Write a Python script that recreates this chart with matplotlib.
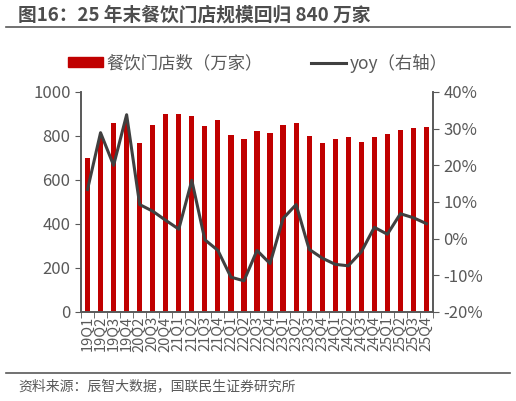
import numpy as np
import matplotlib.pyplot as plt
from matplotlib.lines import Line2D

plt.rcParams['font.family'] = ['Noto Sans CJK SC', 'DejaVu Sans']

quarters = ["19Q1", "19Q2", "19Q3", "19Q4", "20Q2", "20Q3", "20Q4",
            "21Q1", "21Q2", "21Q3", "21Q4", "22Q1", "22Q2", "22Q3", "22Q4",
            "23Q1", "23Q2", "23Q3", "23Q4", "24Q1", "24Q2", "24Q3", "24Q4",
            "25Q1", "25Q2", "25Q3", "25Q4"]
stores = [701, 790, 859, 862, 767, 848, 902, 898, 889, 847, 874, 805, 785,
          823, 812, 848, 861, 798, 770, 788, 797, 774, 794, 808, 829, 838, 839]
yoy = [13.4, 28.9, 20.0, 33.8, 9.3, 7.5, 5.0, 2.6, 15.9, -0.3, -3.2, -10.5,
       -11.5, -3.2, -6.8, 5.5, 9.3, -2.9, -5.3, -7.0, -7.4, -3.6, 3.1, 1.2,
       6.8, 5.7, 4.1]

RED = "#c00000"
GREY = "#404040"
AX = "#595959"

fig = plt.figure(figsize=(5.16, 4.01), dpi=100)
ax = fig.add_axes([81 / 516, 1 - 312 / 401, (433 - 81) / 516, 220 / 401])
x = np.arange(len(quarters))
ax.bar(x, stores, width=0.4, color=RED, zorder=2)
ax.set_xlim(-0.5, len(quarters) - 0.5)
ax.set_ylim(0, 1000)
ax.set_yticks(range(0, 1001, 200))
ax.set_xticks(x)
ax.set_xticklabels(quarters, rotation=90, fontsize=10.5, color=AX)
ax.set_xticks(np.arange(-0.5, len(quarters), 1), minor=True)
ax.tick_params(axis='x', which='major', length=0, pad=3)
ax.tick_params(axis='x', which='minor', length=4, color=AX)
ax.tick_params(axis='y', labelsize=12, colors=AX, length=4)

ax2 = ax.twinx()
ax2.plot(x, yoy, color=GREY, lw=2.2, zorder=3)
ax2.set_ylim(-20, 40)
ax2.set_yticks(range(-20, 41, 10))
ax2.set_yticklabels([f"{v}%" for v in range(-20, 41, 10)])
ax2.tick_params(axis='y', labelsize=12, colors=AX, length=4)

for a in (ax, ax2):
    a.spines["top"].set_visible(False)
    for s in ("left", "right", "bottom"):
        a.spines[s].set_color(AX)
        a.spines[s].set_linewidth(1.2)

handles = [plt.Rectangle((0, 0), 1, 1, color=RED),
           Line2D([0], [0], color=GREY, lw=2.2)]
fig.legend(handles, ["餐饮门店数（万家）", "yoy（右轴）"], loc="center",
           bbox_to_anchor=(0.5, 1 - 63 / 401), ncol=2, frameon=False,
           fontsize=12.5, handlelength=2.0, handleheight=0.5,
           handletextpad=0.2, columnspacing=2.8, labelcolor=AX)

fig.text(18 / 516, 1 - 15 / 401, "图16：25 年末餐饮门店规模回归 840 万家",
         fontsize=13.5, fontweight="bold", color="#4d4d4d", va="center")
fig.add_artist(Line2D([6 / 516, 510 / 516], [1 - 27 / 401] * 2, color=AX, lw=1.2))
fig.add_artist(Line2D([6 / 516, 510 / 516], [1 - 373 / 401] * 2, color=AX, lw=1.2))
fig.text(18 / 516, 1 - 386 / 401, "资料来源：辰智大数据，国联民生证券研究所",
         fontsize=10, color="#595959", va="center")

fig.savefig("out.png", dpi=100)
